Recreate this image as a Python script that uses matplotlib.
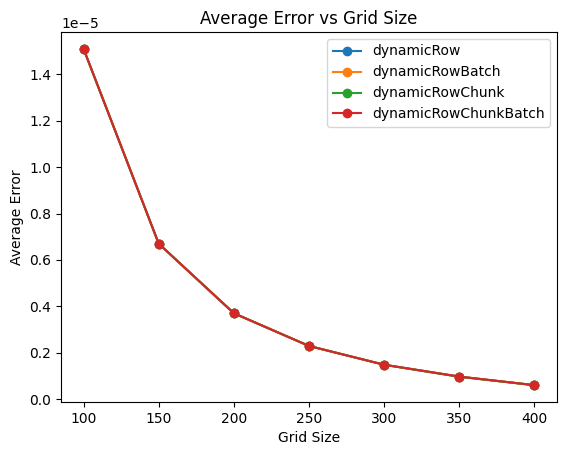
import matplotlib
matplotlib.use("Agg")
import matplotlib.pyplot as plt

grid_sizes = [100, 150, 200, 250, 300, 350, 400]

dynamic_row = [1.510e-5, 0.670e-5, 0.370e-5, 0.229e-5, 0.148e-5, 0.097e-5, 0.060e-5]
dynamic_row_batch = [1.510e-5, 0.670e-5, 0.370e-5, 0.229e-5, 0.148e-5, 0.097e-5, 0.060e-5]
dynamic_row_chunk = [1.510e-5, 0.670e-5, 0.370e-5, 0.229e-5, 0.148e-5, 0.096e-5, 0.060e-5]
dynamic_row_chunk_batch = [1.510e-5, 0.670e-5, 0.370e-5, 0.229e-5, 0.148e-5, 0.097e-5, 0.060e-5]

series = {
    "dynamicRow": dynamic_row,
    "dynamicRowBatch": dynamic_row_batch,
    "dynamicRowChunk": dynamic_row_chunk,
    "dynamicRowChunkBatch": dynamic_row_chunk_batch,
}

fig = plt.figure(figsize=(5.67, 4.55), dpi=100)
ax = fig.add_subplot(111)
fig.subplots_adjust(left=0.1076, right=0.9824, top=0.9297, bottom=0.1165)

for name, vals in series.items():
    ax.plot(grid_sizes, vals, marker="o", label=name)

ax.set_title("Average Error vs Grid Size")
ax.set_xlabel("Grid Size")
ax.set_ylabel("Average Error")
ax.legend()

fig.savefig("out.png", dpi=100)
